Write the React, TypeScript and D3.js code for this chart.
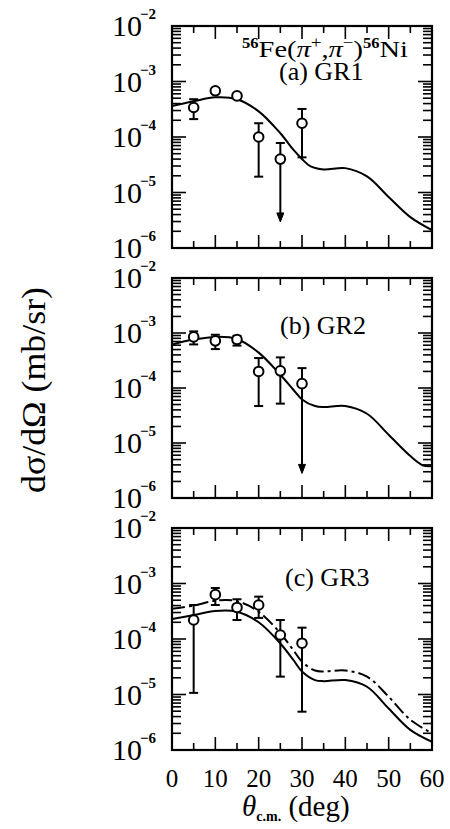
import React from "react";
import * as d3 from "d3";

// ---------- data ----------
const pointAngles = [5, 10, 15, 20, 25, 30];

const gr1Values = [3.4e-4, 6.8e-4, 5.5e-4, 1.0e-4, 4.0e-5, 1.77e-4];
const gr1ErrHi = [4.8e-4, 7.5e-4, 6.0e-4, 1.77e-4, 7.8e-5, 3.2e-4];
const gr1ErrLo = [2.1e-4, 6.2e-4, 5.0e-4, 1.93e-5, null, 4.3e-5];
const gr1Arrow = [null, null, null, null, 2.95e-6, null];

const gr2Values = [8.5e-4, 7.2e-4, 7.6e-4, 2.0e-4, 2.05e-4, 1.2e-4];
const gr2ErrHi = [1.07e-3, 9.3e-4, 8.9e-4, 3.5e-4, 3.6e-4, 2.3e-4];
const gr2ErrLo = [6.2e-4, 5.1e-4, 5.9e-4, 4.7e-5, 5.2e-5, null];
const gr2Arrow = [null, null, null, null, null, 2.8e-6];

const gr3Values = [2.2e-4, 6.3e-4, 3.7e-4, 4.1e-4, 1.18e-4, 8.4e-5];
const gr3ErrHi = [4.1e-4, 8.3e-4, 5.2e-4, 5.8e-4, 2.2e-4, 1.6e-4];
const gr3ErrLo = [1.07e-5, 4.1e-4, 2.2e-4, 2.4e-4, 2.1e-5, 4.9e-6];
const gr3Arrow = [null, null, null, null, null, null];

const gr1CurveAngles = [0, 5, 10, 15, 20, 25, 28, 30, 32, 35, 40, 45, 50, 55, 60];
const gr1Curve = [3.6e-4, 4.4e-4, 5.2e-4, 4.8e-4, 2.9e-4, 1.17e-4, 5.9e-5, 4.0e-5, 2.95e-5, 2.6e-5, 2.75e-5, 1.95e-5, 8.3e-6, 3.6e-6, 2.1e-6];

const gr2CurveAngles = [0, 5, 10, 15, 20, 25, 28, 30, 33, 35, 40, 45, 50, 55, 58, 60];
const gr2Curve = [6.2e-4, 7.6e-4, 8.5e-4, 7.8e-4, 4.4e-4, 1.74e-4, 9.3e-5, 6.2e-5, 4.7e-5, 4.5e-5, 4.7e-5, 3.4e-5, 1.41e-5, 5.8e-6, 3.9e-6, 3.8e-6];

const gr3CurveAngles = [0, 5, 10, 15, 20, 25, 28, 30, 33, 35, 40, 45, 50, 55, 60];
const gr3Solid = [2.3e-4, 2.7e-4, 3.2e-4, 3.1e-4, 2.0e-4, 8.3e-5, 4.2e-5, 2.6e-5, 1.82e-5, 1.74e-5, 1.82e-5, 1.38e-5, 5.6e-6, 2.3e-6, 1.4e-6];
const gr3DashDot = [3.5e-4, 4.0e-4, 4.9e-4, 4.8e-4, 3.1e-4, 1.27e-4, 6.3e-5, 3.9e-5, 2.7e-5, 2.6e-5, 2.7e-5, 2.1e-5, 9.1e-6, 3.5e-6, 2.0e-6];

const decadeExponents = [-2, -3, -4, -5, -6];
const xTickValues = [0, 10, 20, 30, 40, 50, 60];
const panelLabels = ["(a) GR1", "(b) GR2", "(c) GR3"];

// ---------- layout ----------
const W = 450;
const H = 829;
const LEFT = 172;
const RIGHT = 432;
const panelTops = [26, 278, 528];
const panelBottoms = [248, 498, 750];
const FONT = "'Liberation Serif', 'Times New Roman', serif";

const x = d3.scaleLinear().domain([0, 60]).range([LEFT, RIGHT]);

type Panel = {
  values: number[];
  hi: number[];
  lo: (number | null)[];
  arrow: (number | null)[];
  curves: { angles: number[]; vals: number[]; dash?: string }[];
};

const panels: Panel[] = [
  { values: gr1Values, hi: gr1ErrHi, lo: gr1ErrLo, arrow: gr1Arrow, curves: [{ angles: gr1CurveAngles, vals: gr1Curve }] },
  { values: gr2Values, hi: gr2ErrHi, lo: gr2ErrLo, arrow: gr2Arrow, curves: [{ angles: gr2CurveAngles, vals: gr2Curve }] },
  {
    values: gr3Values, hi: gr3ErrHi, lo: gr3ErrLo, arrow: gr3Arrow,
    curves: [
      { angles: gr3CurveAngles, vals: gr3Solid },
      { angles: gr3CurveAngles, vals: gr3DashDot, dash: "13,4,3,4" },
    ],
  },
];

function PanelView({ p, i }: { p: Panel; i: number }) {
  const top = panelTops[i];
  const bottom = panelBottoms[i];
  const y = d3.scaleLog().domain([1e-6, 1e-2]).range([bottom, top]);
  const line = d3
    .line<[number, number]>()
    .x((d) => x(d[0]))
    .y((d) => y(d[1]))
    .curve(d3.curveCatmullRom.alpha(0.5));

  const yTicks: { v: number; major: boolean }[] = [];
  for (let e = -6; e < -2; e++) {
    for (let m = 1; m <= 9; m++) {
      yTicks.push({ v: m * Math.pow(10, e), major: m === 1 });
    }
  }
  const xTicks = d3.range(0, 61, 5);

  return (
    <g>
      <defs>
        <clipPath id={`clip${i}`}>
          <rect x={LEFT} y={top} width={RIGHT - LEFT} height={bottom - top} />
        </clipPath>
      </defs>
      {yTicks.map((t, k) => {
        const yy = y(t.v);
        if (yy <= top + 0.5 || yy >= bottom - 0.5) return null;
        const len = t.major ? 14 : 9;
        return (
          <g key={k} stroke="#000" strokeWidth={1.6}>
            <line x1={LEFT} x2={LEFT + len} y1={yy} y2={yy} />
            <line x1={RIGHT} x2={RIGHT - len} y1={yy} y2={yy} />
          </g>
        );
      })}
      {xTicks.map((t) => {
        if (t === 0 || t === 60) return null;
        const len = t % 10 === 0 ? 13 : 7;
        const xx = x(t);
        return (
          <g key={t} stroke="#000" strokeWidth={1.6}>
            <line x1={xx} x2={xx} y1={bottom} y2={bottom - len} />
            <line x1={xx} x2={xx} y1={top} y2={top + len} />
          </g>
        );
      })}
      <rect x={LEFT} y={top} width={RIGHT - LEFT} height={bottom - top} fill="none" stroke="#000" strokeWidth={2.2} />
      {decadeExponents.map((e) => {
        const yy = y(Math.pow(10, e));
        return (
          <text key={e} x={112} y={yy + 10} fontFamily={FONT} fontSize={30}>
            10
            <tspan fontSize={15} fontWeight="bold" dy={-17} dx={-2}>{"\u2212" + Math.abs(e)}</tspan>
          </text>
        );
      })}
      <g clipPath={`url(#clip${i})`}>
        {p.curves.map((c, k) => (
          <path
            key={k}
            d={line(c.angles.map((a, j) => [a, c.vals[j]] as [number, number])) || ""}
            fill="none"
            stroke="#000"
            strokeWidth={2}
            strokeDasharray={c.dash}
          />
        ))}
      </g>
      {pointAngles.map((a, j) => {
        const xx = x(a);
        const yv = y(p.values[j]);
        const yh = y(p.hi[j]);
        const lo = p.lo[j];
        const ar = p.arrow[j];
        return (
          <g key={j} stroke="#000" strokeWidth={2}>
            <line x1={xx} x2={xx} y1={yh} y2={lo != null ? y(lo) : y(ar as number) - 8} />
            <line x1={xx - 4.5} x2={xx + 4.5} y1={yh} y2={yh} />
            {lo != null && <line x1={xx - 4.5} x2={xx + 4.5} y1={y(lo)} y2={y(lo)} />}
            {ar != null && (
              <path
                d={`M${xx - 3.5},${y(ar) - 9} L${xx + 3.5},${y(ar) - 9} L${xx},${y(ar)} Z`}
                fill="#000"
                strokeWidth={1}
              />
            )}
            <circle cx={xx} cy={yv} r={4.8} fill="#fff" />
          </g>
        );
      })}
      <text x={[279, 280, 285][i]} y={[80, 334, 586][i]} fontFamily={FONT} fontSize={26}>
        {panelLabels[i]}
      </text>
    </g>
  );
}

export default function App() {
  return (
    <svg width={W} height={H} viewBox={`0 0 ${W} ${H}`} style={{ display: "block", position: "absolute", left: 0, top: 0, background: "#fff" }}>
      <rect width={W} height={H} fill="#fff" />
      {panels.map((p, i) => (
        <PanelView key={i} p={p} i={i} />
      ))}
      <text x={242} y={57} fontFamily={FONT} fontSize={24} textLength={166} lengthAdjust="spacingAndGlyphs">
        <tspan fontSize={14} fontWeight="bold" dy={-9}>56</tspan>
        <tspan dy={9}>Fe(</tspan>
        <tspan fontStyle="italic">π</tspan>
        <tspan fontSize={16} dy={-9}>+</tspan>
        <tspan dy={9}>,</tspan>
        <tspan fontStyle="italic">π</tspan>
        <tspan fontSize={16} dy={-9}>{"\u2212"}</tspan>
        <tspan dy={9}>)</tspan>
        <tspan fontSize={14} fontWeight="bold" dy={-9}>56</tspan>
        <tspan dy={9}>Ni</tspan>
      </text>
      {xTickValues.map((t) => (
        <text key={t} x={x(t)} y={787} fontFamily={FONT} fontSize={25} textAnchor="middle">
          {t}
        </text>
      ))}
      <text x={242} y={816} fontFamily={FONT} fontSize={29}>
        <tspan fontStyle="italic">θ</tspan>
        <tspan fontSize={14} fontWeight="bold" dy={5}>c.m.</tspan>
        <tspan dy={-5}> (deg)</tspan>
      </text>
      <text
        transform="translate(45,390) rotate(-90)"
        fontFamily={FONT}
        fontSize={33}
        textAnchor="middle"
        textLength={206}
        lengthAdjust="spacingAndGlyphs"
      >
        dσ/dΩ (mb/sr)
      </text>
    </svg>
  );
}
